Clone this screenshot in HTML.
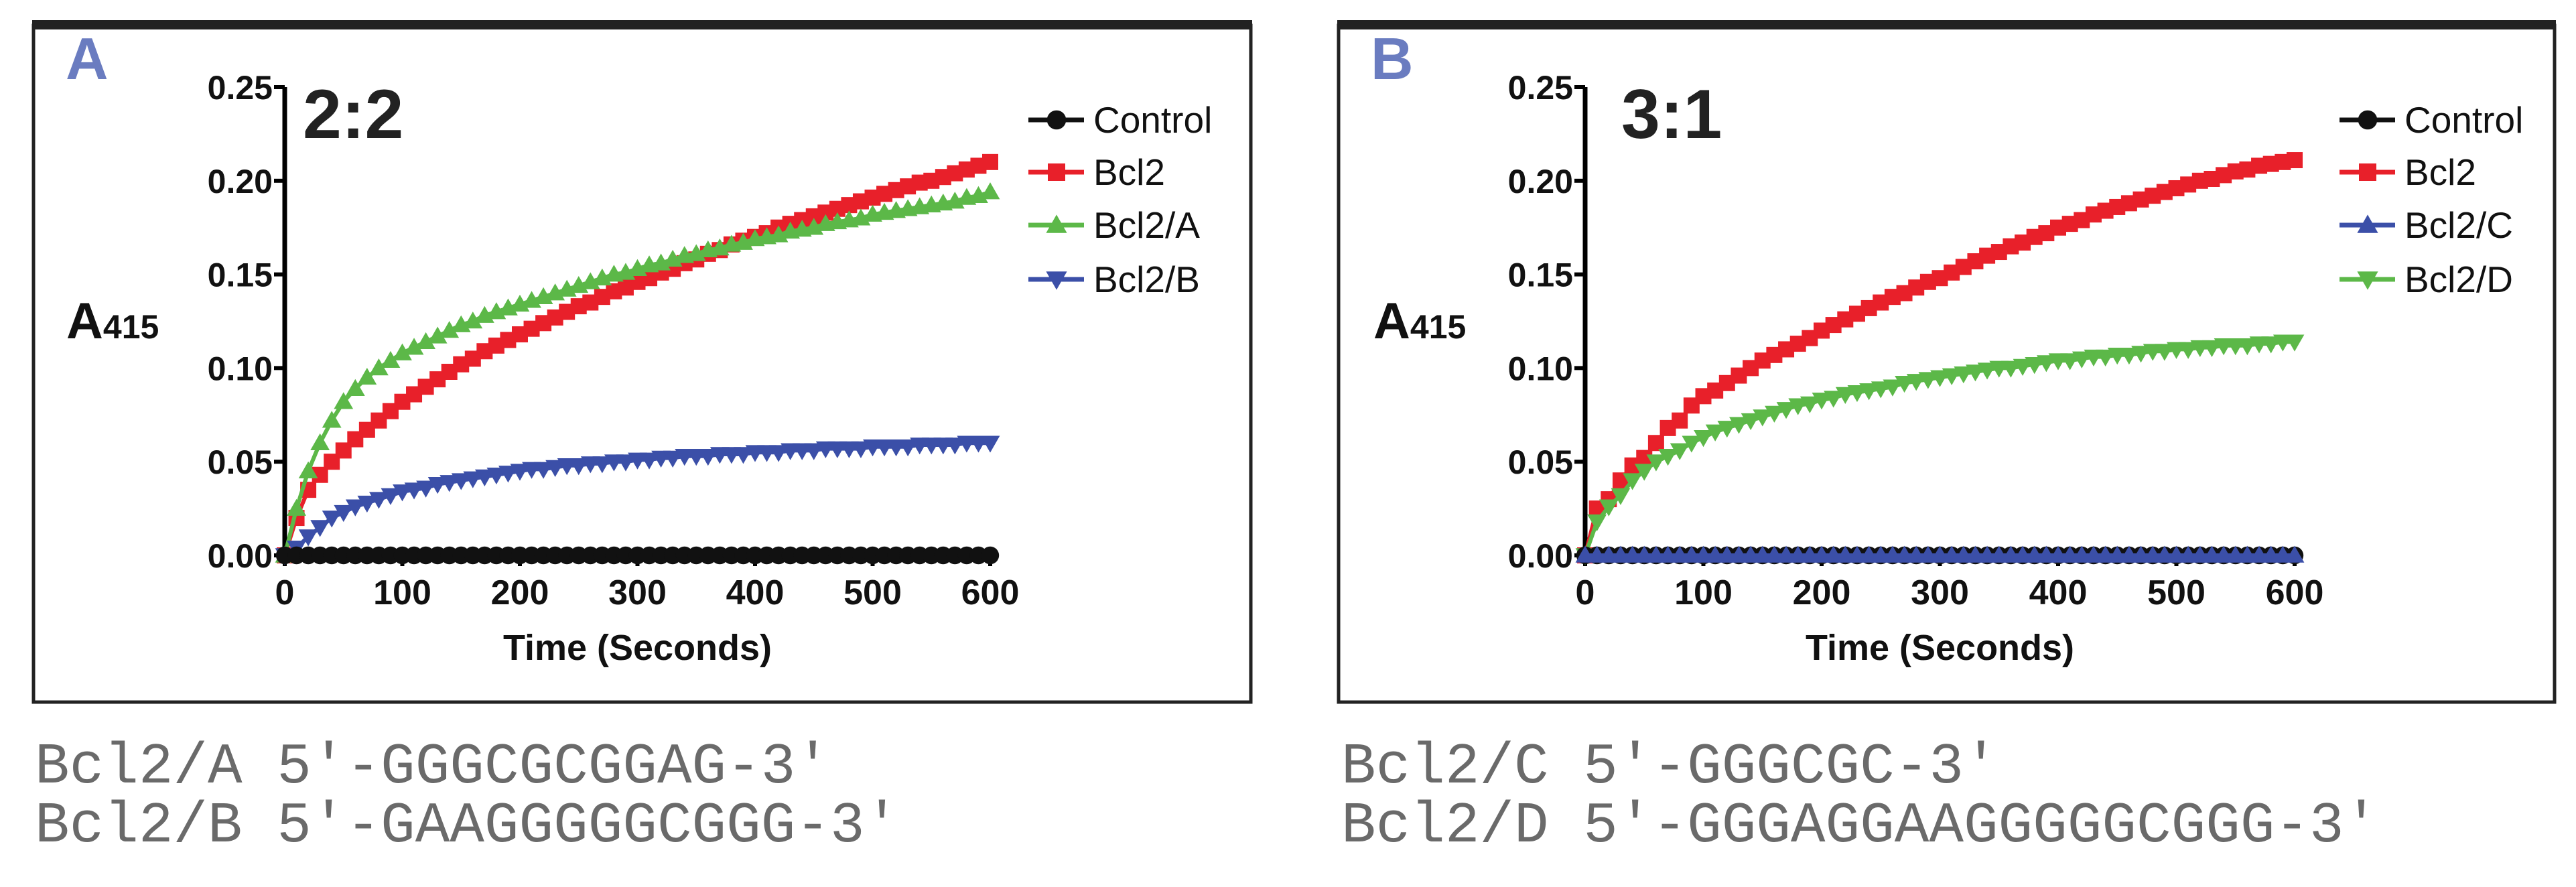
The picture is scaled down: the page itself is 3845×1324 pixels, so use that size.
<!DOCTYPE html>
<html><head><meta charset="utf-8"><style>
html,body{margin:0;padding:0;background:#fff;}
svg{display:block;}
text{font-family:"Liberation Sans",Arial,sans-serif;}
.seq{font-family:"Liberation Mono","Courier New",monospace;fill:#6a6a6a;font-size:86px;}
</style></head><body>
<svg id="fig" width="3845" height="1324" viewBox="0 0 3845 1324" xmlns="http://www.w3.org/2000/svg"></svg>
<script>
const times = [0,10,20,30,40,50,60,70,80,90,100,110,120,130,140,150,160,170,180,190,200,210,220,230,240,250,260,270,280,290,300,310,320,330,340,350,360,370,380,390,400,410,420,430,440,450,460,470,480,490,500,510,520,530,540,550,560,570,580,590,600];
const yTicks = [0,0.05,0.10,0.15,0.20,0.25];
const yTickLabels = ["0.00","0.05","0.10","0.15","0.20","0.25"];
const xTicks = [0,100,200,300,400,500,600];
const xTickLabels = ["0","100","200","300","400","500","600"];
const zeros = [0,0,0,0,0,0,0,0,0,0,0,0,0,0,0,0,0,0,0,0,0,0,0,0,0,0,0,0,0,0,0,0,0,0,0,0,0,0,0,0,0,0,0,0,0,0,0,0,0,0,0,0,0,0,0,0,0,0,0,0,0];
const aControl = zeros;
const aBcl2 = [0,.020,.035,.043,.050,.056,.062,.067,.072,.077,.082,.086,.090,.094,.098,.102,.105,.109,.112,.115,.118,.121,.124,.127,.130,.133,.135,.138,.141,.143,.146,.148,.151,.153,.156,.158,.161,.163,.166,.168,.170,.172,.175,.177,.179,.181,.183,.185,.187,.189,.191,.193,.195,.197,.199,.200,.202,.204,.206,.208,.210];
const aBcl2A = [0,.025,.045,.060,.072,.082,.089,.095,.100,.104,.108,.111,.114,.117,.120,.123,.125,.128,.130,.132,.134,.136,.138,.140,.142,.144,.146,.148,.150,.151,.153,.155,.156,.158,.160,.161,.163,.164,.166,.167,.169,.170,.171,.173,.174,.175,.177,.178,.179,.180,.182,.183,.184,.185,.186,.187,.188,.189,.191,.192,.194];
const aBcl2B = [0,.004,.010,.015,.020,.023,.026,.028,.030,.032,.034,.035,.036,.038,.039,.040,.041,.042,.043,.044,.045,.046,.046,.047,.048,.048,.049,.049,.050,.050,.051,.051,.052,.052,.053,.053,.053,.054,.054,.054,.055,.055,.055,.056,.056,.056,.057,.057,.057,.057,.058,.058,.058,.058,.059,.059,.059,.059,.060,.060,.060];
const bControl = zeros;
const bBcl2 = [0,.025,.030,.040,.048,.052,.060,.068,.072,.080,.085,.088,.092,.096,.100,.104,.107,.110,.113,.116,.120,.123,.126,.129,.132,.135,.138,.140,.143,.146,.148,.151,.154,.157,.160,.162,.165,.167,.170,.172,.175,.177,.179,.182,.184,.186,.188,.190,.192,.194,.196,.198,.200,.201,.203,.205,.206,.208,.209,.210,.211];
const bBcl2C = zeros;
const bBcl2D = [0,.018,.026,.032,.040,.045,.050,.053,.056,.060,.063,.066,.068,.070,.072,.074,.076,.078,.080,.081,.083,.084,.086,.087,.088,.089,.090,.092,.093,.094,.095,.096,.097,.098,.099,.100,.100,.101,.102,.103,.104,.104,.105,.106,.106,.107,.107,.108,.109,.109,.110,.110,.111,.111,.112,.112,.112,.113,.113,.114,.114];

const NS = "http://www.w3.org/2000/svg";
const svg = document.getElementById('fig');
function mk(tag, attrs, parent, txt){
  const e = document.createElementNS(NS, tag);
  for (const k in attrs) e.setAttribute(k, attrs[k]);
  if (txt !== undefined) e.textContent = txt;
  (parent || svg).appendChild(e);
  return e;
}
const COL = {black:"#111", red:"#e8202a", green:"#5cb848", blue:"#3b4fa8"};

function marker(g, shape, cx, cy, color, s){
  let m;
  if (shape === 'circle') m = mk('circle',{cx:cx,cy:cy,r:s*0.55,fill:color},g);
  else if (shape === 'square') m = mk('rect',{x:cx-s/2,y:cy-s/2,width:s,height:s,fill:color},g);
  else if (shape === 'up') m = mk('polygon',{points:`${cx},${cy-s*0.6} ${cx-s*0.6},${cy+s*0.45} ${cx+s*0.6},${cy+s*0.45}`,fill:color},g);
  else m = mk('polygon',{points:`${cx},${cy+s*0.6} ${cx-s*0.6},${cy-s*0.45} ${cx+s*0.6},${cy-s*0.45}`,fill:color},g);
  return m;
}

function panel(p){
  const g = mk('g',{});
  
  
  const fr = mk('rect',{x:p.bx,y:38,width:p.bw,height:1010,fill:'none',stroke:'#222','stroke-width':5},g);
  
  
  const tb = mk('rect',{x:p.bx-2,y:30,width:p.bw+4,height:14,fill:'#222'},g);
  
  
  const lab = mk('text',{x:p.bx+48,y:118,'font-size':88,'font-weight':'bold',fill:'#6a7cc0'},g,p.letter);
  
  
  const x0=p.ax, x1=p.ax2, y0=829, y1=130;
  const X = t => x0 + (t/600)*(x1-x0);
  const Y = v => y0 - (v/0.25)*(y0-y1);
  const ya = mk('line',{x1:x0,y1:Y(0.25),x2:x0,y2:y0,stroke:'#000','stroke-width':7},g);
  
  
  const xa = mk('line',{x1:x0,y1:y0,x2:x1,y2:y0,stroke:'#000','stroke-width':7},g);
  
  
  yTicks.forEach((v,i)=>{
    const tk = mk('line',{x1:x0-16,y1:Y(v),x2:x0,y2:Y(v),stroke:'#000','stroke-width':6},g);
    
    
    const tl = mk('text',{x:x0-18,y:Y(v)+18,'font-size':50,'font-weight':'bold','text-anchor':'end',fill:'#111'},g,yTickLabels[i]);
    
    
  });
  xTicks.forEach((t,i)=>{
    const tk = mk('line',{x1:X(t),y1:y0,x2:X(t),y2:y0+16,stroke:'#000','stroke-width':6},g);
    
    
    const tl = mk('text',{x:X(t),y:902,'font-size':52,'font-weight':'bold','text-anchor':'middle',fill:'#111'},g,xTickLabels[i]);
    
    
  });
  const xt = mk('text',{x:(x0+x1)/2,y:985,'font-size':54,'font-weight':'bold','text-anchor':'middle',fill:'#111'},g,'Time (Seconds)');
  
  
  const yt = mk('text',{x:p.ylx,y:505,'font-size':76,'font-weight':'bold',fill:'#111'},g);
  
  
  mk('tspan',{},yt,'A');
  mk('tspan',{'font-size':50},yt,'415');
  const rt = mk('text',{x:p.rx,y:206,'font-size':104,'font-weight':'bold',fill:'#222'},g,p.ratio);
  
  
  p.series.forEach(s=>{
    const sg = mk('g',{},g);
    
    
    const d = s.values.map((v,i)=>(i?'L':'M')+X(times[i]).toFixed(1)+','+Y(v).toFixed(1)).join(' ');
    const ln = mk('path',{d:d,fill:'none',stroke:s.color,'stroke-width':6},sg);
    
    
    s.values.forEach((v,i)=>{
      const m = marker(sg, s.shape, X(times[i]), Y(v), s.color, 24);
      
      
    });
  });
  p.legend.forEach((s,i)=>{
    const ly = [179,257,336,417][i];
    const lg = mk('g',{},g);
    
    
    mk('line',{x1:p.lx,y1:ly,x2:p.lx+83,y2:ly,stroke:s.color,'stroke-width':7},lg);
    marker(lg, s.shape, p.lx+42, ly, s.color, 26);
    mk('text',{x:p.lx+97,y:ly+19,'font-size':55,fill:'#111'},lg,s.label);
  });
  p.seqs.forEach((t,i)=>{
    const st = mk('text',{x:p.sx,y:[1168,1256][i],class:'seq'},g,t);
    
    
  });
}

panel({name:'panel-a',letter:'A',bx:50,bw:1817,ax:425,ax2:1478,ylx:99,rx:452,ratio:'2:2',lx:1535,sx:52,
  series:[
    {key:'bcl2',values:aBcl2,color:COL.red,shape:'square'},
    {key:'bcl2-a',values:aBcl2A,color:COL.green,shape:'up'},
    {key:'bcl2-b',values:aBcl2B,color:COL.blue,shape:'down'},
    {key:'control',values:aControl,color:COL.black,shape:'circle'}],
  legend:[{label:'Control',color:COL.black,shape:'circle'},{label:'Bcl2',color:COL.red,shape:'square'},{label:'Bcl2/A',color:COL.green,shape:'up'},{label:'Bcl2/B',color:COL.blue,shape:'down'}],
  seqs:['Bcl2/A 5\u2032-GGGCGCGGAG-3\u2032','Bcl2/B 5\u2032-GAAGGGGGCGGG-3\u2032']});

panel({name:'panel-b',letter:'B',bx:1998,bw:1815,ax:2366,ax2:3425,ylx:2050,rx:2420,ratio:'3:1',lx:3492,sx:2002,
  series:[
    {key:'bcl2',values:bBcl2,color:COL.red,shape:'square'},
    {key:'bcl2-d',values:bBcl2D,color:COL.green,shape:'down'},
    {key:'control',values:bControl,color:COL.black,shape:'circle'},
    {key:'bcl2-c',values:bBcl2C,color:COL.blue,shape:'up'}],
  legend:[{label:'Control',color:COL.black,shape:'circle'},{label:'Bcl2',color:COL.red,shape:'square'},{label:'Bcl2/C',color:COL.blue,shape:'up'},{label:'Bcl2/D',color:COL.green,shape:'down'}],
  seqs:['Bcl2/C 5\u2032-GGGCGC-3\u2032','Bcl2/D 5\u2032-GGGAGGAAGGGGGCGGG-3\u2032']});
</script>
</body></html>
